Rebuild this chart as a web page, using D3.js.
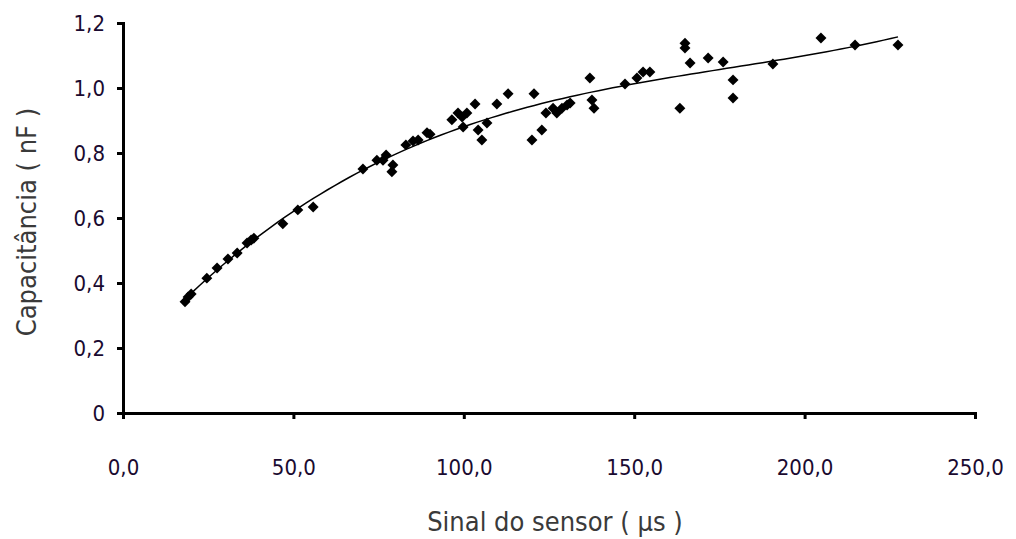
<!DOCTYPE html>
<html>
<head>
<meta charset="utf-8">
<script src="https://cdn.jsdelivr.net/npm/d3@7"></script>
<style>
  body { margin: 0; background: #fff; }
  svg { display: block; }
</style>
</head>
<body>
<svg id="chart" width="1016" height="539"></svg>
<script>
// sensor signal (µs) vs capacitance (nF)
const sinal = [18.2, 19.1, 20.0, 24.6, 27.6, 30.8, 33.5, 36.4, 37.6, 38.4,
  46.9, 51.3, 55.8, 70.4, 74.5, 76.3, 77.2, 79.2, 78.9, 83.0,
  85.1, 86.6, 89.2, 90.1, 96.5, 98.3, 99.5, 100.9, 99.8, 103.3,
  104.2, 106.8, 105.3, 109.7, 113.0, 120.6, 120.0, 122.9, 124.1, 126.2,
  127.3, 128.8, 130.3, 131.2, 137.0, 137.6, 138.2, 147.3, 150.8, 152.6,
  154.6, 163.4, 164.9, 164.9, 166.4, 171.7, 176.1, 179.0, 179.0, 190.7,
  204.8, 214.8, 227.4];
const capacitancia = [0.342, 0.357, 0.366, 0.415, 0.446, 0.474, 0.492, 0.523, 0.532, 0.538,
  0.582, 0.625, 0.634, 0.751, 0.778, 0.778, 0.794, 0.763, 0.742, 0.825,
  0.837, 0.840, 0.862, 0.858, 0.902, 0.923, 0.911, 0.923, 0.880, 0.951,
  0.871, 0.892, 0.840, 0.951, 0.982, 0.982, 0.840, 0.871, 0.923, 0.938,
  0.923, 0.938, 0.948, 0.954, 1.031, 0.963, 0.938, 1.012, 1.031, 1.049,
  1.049, 0.938, 1.138, 1.123, 1.077, 1.092, 1.080, 1.025, 0.969, 1.074,
  1.154, 1.132, 1.132];
const xTicks = [0, 50, 100, 150, 200, 250];
const yTicks = [0, 0.2, 0.4, 0.6, 0.8, 1.0, 1.2];

const svg = d3.select("#chart");
const x = d3.scaleLinear().domain([0, 250]).range([123, 975]);
const y = d3.scaleLinear().domain([0, 1.2]).range([413, 23]);

const points = sinal.map((v, i) => ({ x: v, y: capacitancia[i] }));

// polynomial trend line (order 3), least squares on the points
function polyFit(pts, order) {
  const m = order + 1;
  const M = [];
  for (let i = 0; i < m; i++) {
    M.push(new Array(m + 1).fill(0));
  }
  pts.forEach(p => {
    for (let i = 0; i < m; i++) {
      for (let j = 0; j < m; j++) M[i][j] += Math.pow(p.x, i + j);
      M[i][m] += Math.pow(p.x, i) * p.y;
    }
  });
  for (let i = 0; i < m; i++) {
    for (let k = i + 1; k < m; k++) {
      const f = M[k][i] / M[i][i];
      for (let j = i; j <= m; j++) M[k][j] -= f * M[i][j];
    }
  }
  const c = new Array(m).fill(0);
  for (let i = m - 1; i >= 0; i--) {
    let s = M[i][m];
    for (let j = i + 1; j < m; j++) s -= M[i][j] * c[j];
    c[i] = s / M[i][i];
  }
  return c;
}
const coef = polyFit(points, 3);
const xMin = d3.min(sinal), xMax = d3.max(sinal);
const trend = d3.range(0, 101).map(i => {
  const v = xMin + (xMax - xMin) * i / 100;
  return { x: v, y: coef.reduce((s, c, k) => s + c * Math.pow(v, k), 0) };
});

// axes
const fmt = d3.format(".1f");
const comma = v => fmt(v).replace(".", ",");
const tickFont = "Tahoma, 'DejaVu Sans Condensed', sans-serif";

const xAxis = svg.append("g")
  .attr("transform", `translate(0,${y(0)})`)
  .call(d3.axisBottom(x).tickValues(xTicks).tickSize(6).tickPadding(40).tickFormat(comma));
const yAxis = svg.append("g")
  .attr("transform", `translate(${x(0)},0)`)
  .call(d3.axisLeft(y).tickValues(yTicks).tickSize(6).tickPadding(12)
    .tickFormat(v => v === 0 ? "0" : comma(v)));

[xAxis, yAxis].forEach(g => {
  g.select(".domain").attr("stroke", "#000").attr("stroke-width", 3);
  g.selectAll(".tick line").attr("stroke", "#000").attr("stroke-width", 3);
  g.selectAll(".tick text")
    .attr("fill", "#1a0a30")
    .style("font-family", tickFont)
    .style("font-size", "22px");
});
yAxis.selectAll(".tick text").attr("dy", "0.36em");

// trend line
svg.append("path")
  .datum(trend)
  .attr("fill", "none")
  .attr("stroke", "#000")
  .attr("stroke-width", 1.5)
  .attr("d", d3.line().x(d => x(d.x)).y(d => y(d.y)));

// markers (diamonds)
svg.selectAll(".pt")
  .data(points)
  .enter()
  .append("path")
  .attr("class", "pt")
  .attr("d", d3.symbol().type(d3.symbolSquare).size(60))
  .attr("transform", d => `translate(${x(d.x)},${y(d.y)}) rotate(45)`)
  .attr("fill", "#000");

// axis titles
svg.append("text")
  .attr("x", 555)
  .attr("y", 531)
  .attr("text-anchor", "middle")
  .attr("fill", "#3a3a3a")
  .style("font-family", tickFont)
  .style("font-size", "27px")
  .text("Sinal do sensor ( µs )");

svg.append("text")
  .attr("transform", "translate(36,222) rotate(-90)")
  .attr("text-anchor", "middle")
  .attr("fill", "#3a3a3a")
  .style("font-family", tickFont)
  .style("font-size", "27px")
  .text("Capacitância ( nF )");
</script>
</body>
</html>
